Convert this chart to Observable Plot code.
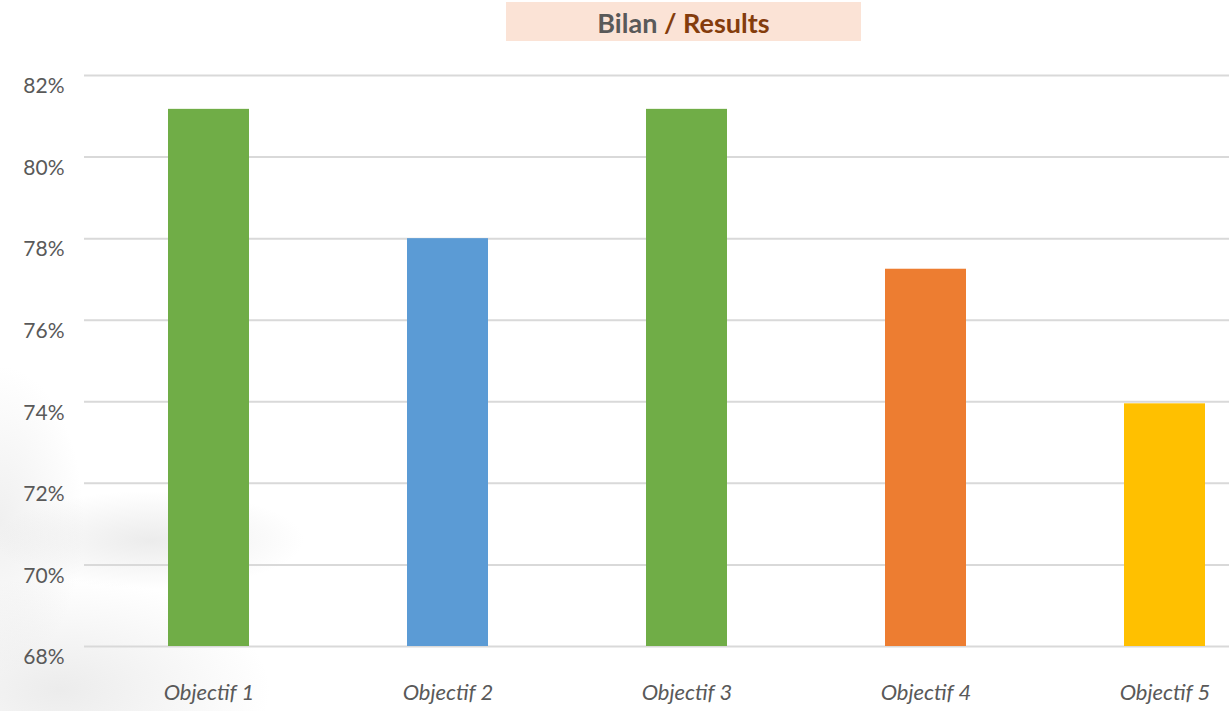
<!DOCTYPE html>
<html>
<head>
<meta charset="utf-8">
<script src="https://cdn.jsdelivr.net/npm/d3@7"></script>
<script src="https://cdn.jsdelivr.net/npm/@observablehq/plot@0.6"></script>
<style>
  html, body { margin: 0; padding: 0; background: #fff; }
  #wrap {
    position: relative; width: 1229px; height: 711px; overflow: hidden;
    background:
      radial-gradient(ellipse 220px 70px at 150px 540px, rgba(200,200,200,0.35), rgba(255,255,255,0) 70%),
      radial-gradient(ellipse 300px 160px at 60px 690px, rgba(200,200,200,0.35), rgba(255,255,255,0) 70%),
      radial-gradient(ellipse 120px 220px at 0px 520px, rgba(205,205,205,0.3), rgba(255,255,255,0) 70%),
      #ffffff;
  }
  #title {
    position: absolute; left: 506px; top: 2px; width: 355px; height: 39px;
    background: #fbe3d6; text-align: center; line-height: 41px;
    font-family: Lato, "Open Sans", sans-serif; font-weight: bold; font-size: 27px;
  }
  #title .a { color: #595959; }
  #title .b { color: #843c0c; }
  #chart { position: absolute; left: 0; top: 0; }
</style>
</head>
<body>
<div id="wrap">
  <div id="title"><span class="a">Bilan</span><span class="b"> / Results</span></div>
  <div id="chart"></div>
</div>
<script>
const categories = ["Objectif 1", "Objectif 2", "Objectif 3", "Objectif 4", "Objectif 5"];
const values = [81.17, 78.0, 81.17, 77.25, 73.95];
const colors = ["#70ad47", "#5b9bd5", "#70ad47", "#ed7d31", "#ffc000"];
const yTicks = [68, 70, 72, 74, 76, 78, 80, 82];

const data = categories.map((c, i) => ({category: c, value: values[i], color: colors[i]}));

const chart = Plot.plot({
  width: 1229,
  height: 711,
  marginTop: 75,
  marginBottom: 65,
  marginLeft: 84,
  marginRight: 0,
  style: {background: "transparent", fontFamily: "Lato, 'Open Sans', sans-serif"},
  x: {domain: categories, range: [88, 1286], paddingInner: 0.66, paddingOuter: 0.33, label: null},
  y: {domain: [68, 82], label: null},
  marks: [
    Plot.ruleY(yTicks, {stroke: "#d9d9d9", strokeWidth: 2}),
    Plot.barY(data, {x: "category", y1: () => 68, y2: "value", fill: "color"}),
    Plot.axisY({ticks: yTicks, tickSize: 0, tickPadding: 20, dy: 11, tickFormat: d => d + "%", fontSize: 21, fill: "#595959"}),
    Plot.axisX({tickSize: 0, tickPadding: 38, fontSize: 22, fontStyle: "italic", fill: "#595959"})
  ]
});
document.getElementById("chart").appendChild(chart);
</script>
</body>
</html>
